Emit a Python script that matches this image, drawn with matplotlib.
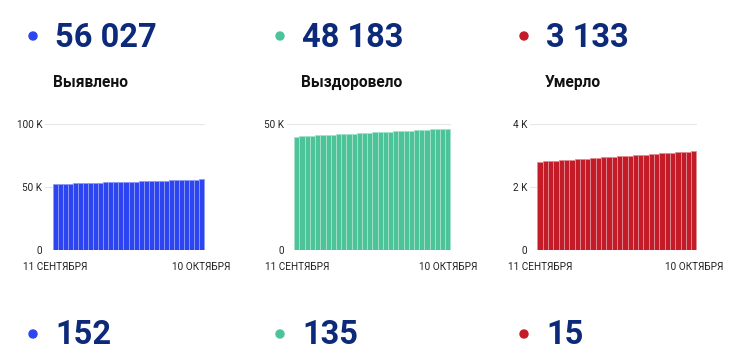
import numpy as np
import matplotlib
matplotlib.use("Agg")
import matplotlib.pyplot as plt
from matplotlib.patches import Circle

plt.rcParams['font.family'] = ['Roboto', 'DejaVu Sans']

# cumulative values, 11 September .. 10 October
days = list(range(30))
date_labels = ["11 СЕНТЯБРЯ", "10 ОКТЯБРЯ"]

cases = [52390, 52512, 52641, 52760, 52881, 52996, 53110, 53232, 53358, 53480,
         53601, 53719, 53840, 53968, 54090, 54209, 54330, 54455, 54578, 54699,
         54822, 54948, 55071, 55188, 55310, 55437, 55568, 55718, 55875, 56027]
recovered = [45010, 45118, 45230, 45337, 45449, 45556, 45664, 45773, 45880, 45990,
             46098, 46207, 46316, 46425, 46533, 46641, 46750, 46858, 46966, 47075,
             47183, 47291, 47400, 47508, 47617, 47724, 47832, 47940, 48048, 48183]
deaths = [2800, 2812, 2823, 2835, 2846, 2858, 2869, 2881, 2892, 2904,
          2915, 2927, 2938, 2950, 2961, 2973, 2984, 2996, 3007, 3019,
          3030, 3042, 3053, 3064, 3075, 3086, 3097, 3108, 3118, 3133]

titles = ["Выявлено", "Выздоровело", "Умерло"]
yticks = [[0, 50000, 100000], [0, 50000], [0, 2000, 4000]]
yticklabels = [["0", "50 K", "100 K"], ["0", "50 K"], ["0", "2 K", "4 K"]]

series = [cases, recovered, deaths]
colors = ['#2d45f0', '#4cc399', '#c41b28']
edges = ['#8d9bf7', '#a5e3cb', '#e08d94']
navy = '#0d2a7a'

W, H = 747, 363
fig = plt.figure(figsize=(W / 100, H / 100), dpi=100)

# axes boxes in pixels: left, right, xlim (top 124, bottom 250)
boxes = [(45, 205, -2.1, 29.7), (287, 451, -1.9, 29.6), (530, 697, -1.9, 29.6)]
top_px, bot_px = 124, 250
text_x = [55, 302, 546]
dot_x = [33, 280, 524]

for i, vals in enumerate(series):
    l, r, x0, x1 = boxes[i]
    ax = fig.add_axes([l / W, 1 - bot_px / H, (r - l) / W, (bot_px - top_px) / H])
    ax.bar(days, vals, width=1.0, color=colors[i], edgecolor=edges[i], linewidth=0.6, zorder=2)
    ax.set_xlim(x0, x1)
    ax.set_ylim(0, yticks[i][-1])
    ax.set_yticks(yticks[i])
    ax.set_yticklabels(yticklabels[i])
    ax.set_xticks([days[0], days[-1]])
    ax.set_xticklabels(date_labels)
    ax.tick_params(length=0, labelsize=7.2, labelcolor='#222222')
    ax.tick_params(axis='y', pad=2)
    ax.tick_params(axis='x', pad=8.5)
    ax.grid(axis='y', color='#e6e6e6', linewidth=0.8, zorder=0)
    ax.set_axisbelow(True)
    for s in ax.spines.values():
        s.set_visible(False)

# overlay in pixel coordinates for the big numbers
ov = fig.add_axes([0, 0, 1, 1])
ov.set_xlim(0, W)
ov.set_ylim(H, 0)
ov.axis('off')
ov.patch.set_alpha(0)

def fmt(v):
    return f"{v:,}".replace(",", " ")

for i, vals in enumerate(series):
    total = vals[-1]
    daily = vals[-1] - vals[-2]
    ov.add_patch(Circle((dot_x[i], 36), 4, color=colors[i]))
    ov.text(text_x[i], 46.7, fmt(total), fontsize=23.5, fontweight='bold', color=navy, va='baseline')
    ov.text(text_x[i] - 1.5, 87.3, titles[i], fontsize=11.2, fontweight='bold', color='#111111', va='baseline')
    ov.add_patch(Circle((dot_x[i], 334), 4, color=colors[i]))
    ov.text(text_x[i], 344.5, fmt(daily), fontsize=23.5, fontweight='bold', color=navy, va='baseline')

fig.savefig("out.png", dpi=100)
